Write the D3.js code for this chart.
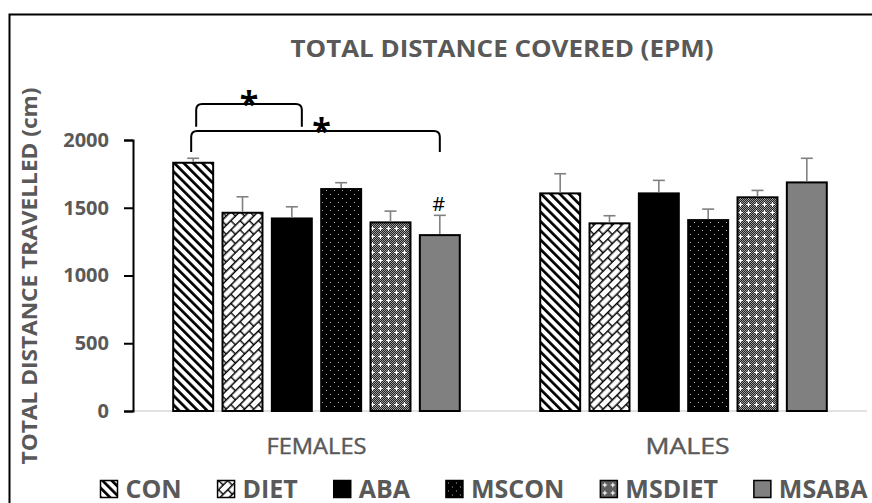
<!DOCTYPE html>
<html>
<head>
<meta charset="utf-8">
<script src="https://cdn.jsdelivr.net/npm/d3@7"></script>
<style>
  html, body { margin: 0; padding: 0; background: #fff; }
  svg { display: block; }
  text { font-family: "Open Sans", "DejaVu Sans", sans-serif; }
</style>
</head>
<body>
<svg id="chart" width="872" height="503"></svg>
<script>
// ---- DATA ----
const groups = ["FEMALES", "MALES"];
const series = ["CON", "DIET", "ABA", "MSCON", "MSDIET", "MSABA"];
const femalesMean = [1832, 1463, 1421, 1638, 1392, 1298];
const femalesErr  = [33, 118, 86, 47, 83, 146];
const malesMean   = [1606, 1385, 1606, 1409, 1577, 1687];
const malesErr    = [145, 56, 96, 81, 51, 178];
const yTicks = [0, 500, 1000, 1500, 2000];
const title = "TOTAL DISTANCE COVERED (EPM)";
const yLabel = "TOTAL DISTANCE TRAVELLED (cm)";
// significance brackets: [group, fromSeries, toSeries, topValue, legValue, label]
const brackets = [
  ["FEMALES", "CON", "ABA", 2266, 2098, "*"],
  ["FEMALES", "CON", "MSABA", 2067, 1911, "*"]
];
// marks: [group, series, label]
const marks = [["FEMALES", "MSABA", "#"]];

const data = [];
groups.forEach((g, gi) => {
  const m = gi === 0 ? femalesMean : malesMean;
  const e = gi === 0 ? femalesErr : malesErr;
  series.forEach((s, si) => data.push({ group: g, series: s, value: m[si], err: e[si] }));
});

const svg = d3.select("#chart");
const defs = svg.append("defs");

// ---- PATTERNS ----
const pCon = defs.append("pattern").attr("id", "p-CON")
  .attr("patternUnits", "userSpaceOnUse").attr("width", 6.6).attr("height", 10)
  .attr("patternTransform", "rotate(-45)");
pCon.append("rect").attr("width", 6.6).attr("height", 10).attr("fill", "#fff");
pCon.append("rect").attr("width", 2.7).attr("height", 10).attr("fill", "#000");

const pDiet = defs.append("pattern").attr("id", "p-DIET")
  .attr("patternUnits", "userSpaceOnUse").attr("width", 13).attr("height", 13)
  .attr("patternTransform", "rotate(-45)");
pDiet.append("rect").attr("width", 13).attr("height", 13).attr("fill", "#fff");
pDiet.append("path")
  .attr("d", "M0,0.7H13M0,7.2H13M0.7,0.7V7.2M7.2,7.2V13")
  .attr("stroke", "#000").attr("stroke-width", 1.4).attr("fill", "none");

const pMscon = defs.append("pattern").attr("id", "p-MSCON")
  .attr("patternUnits", "userSpaceOnUse").attr("width", 8).attr("height", 8);
pMscon.append("rect").attr("width", 8).attr("height", 8).attr("fill", "#000");
pMscon.append("rect").attr("x", 2).attr("y", 2).attr("width", 1).attr("height", 1).attr("fill", "#bbb");
pMscon.append("rect").attr("x", 6).attr("y", 6).attr("width", 1).attr("height", 1).attr("fill", "#bbb");

const pMsd = defs.append("pattern").attr("id", "p-MSDIET")
  .attr("patternUnits", "userSpaceOnUse").attr("width", 8).attr("height", 8);
pMsd.append("rect").attr("width", 8).attr("height", 8).attr("fill", "#222");
for (let i = 0; i < 8; i++) for (let j = 0; j < 8; j++) {
  if ((i + j) % 2 === 0) pMsd.append("rect").attr("x", i).attr("y", j).attr("width", 1).attr("height", 1).attr("fill", "#9a9a9a");
}
pMsd.append("path").attr("d", "M2,4.5H7M4.5,2V7").attr("stroke", "#fff").attr("stroke-width", 1);

const fills = {
  CON: "url(#p-CON)", DIET: "url(#p-DIET)", ABA: "#000",
  MSCON: "url(#p-MSCON)", MSDIET: "url(#p-MSDIET)", MSABA: "#808080"
};

// ---- FRAME ----
svg.append("rect").attr("x", 9.5).attr("y", 14.5).attr("width", 900).attr("height", 600)
  .attr("fill", "none").attr("stroke", "#000").attr("stroke-width", 2);

// ---- SCALES ----
const x0 = d3.scaleBand().domain(groups).range([133, 867]).padding(0);
const x1 = d3.scaleBand().domain(series).range([0, x0.bandwidth()])
  .paddingInner(0.19).paddingOuter(0.815);
const y = d3.scaleLinear().domain([0, 2000]).range([411, 140]);

svg.append("line").attr("x1", 133).attr("x2", 867).attr("y1", y(0)).attr("y2", y(0))
  .attr("stroke", "#d9d9d9").attr("stroke-width", 1.5);

// ---- AXIS ----
const yAxis = d3.axisLeft(y).tickValues(yTicks).tickFormat(d3.format("d")).tickSize(9).tickPadding(15);
const ya = svg.append("g").attr("transform", "translate(133,0)").call(yAxis);
ya.select(".domain").attr("stroke", "#000").attr("stroke-width", 2);
ya.selectAll(".tick line").attr("stroke", "#000").attr("stroke-width", 2);
ya.selectAll(".tick text").attr("font-size", 20).attr("font-weight", 700)
  .attr("fill", "#595959").style("font-family", '"Open Sans", sans-serif');

// ---- BARS ----
const bx = d => x0(d.group) + x1(d.series);
svg.append("g").selectAll("rect").data(data).join("rect")
  .attr("x", bx).attr("y", d => y(d.value))
  .attr("width", x1.bandwidth()).attr("height", d => y(0) - y(d.value))
  .attr("fill", d => fills[d.series]).attr("stroke", "#000").attr("stroke-width", 2);

const eg = svg.append("g").attr("stroke", "#808080").attr("stroke-width", 1.6);
data.forEach(d => {
  const cx = bx(d) + x1.bandwidth() / 2;
  eg.append("line").attr("x1", cx).attr("x2", cx).attr("y1", y(d.value) - 1).attr("y2", y(d.value + d.err));
  eg.append("line").attr("x1", cx - 6).attr("x2", cx + 6).attr("y1", y(d.value + d.err)).attr("y2", y(d.value + d.err));
});

// ---- BRACKETS ----
const cxOf = (g, s) => x0(g) + x1(s) + x1.bandwidth() / 2;
brackets.forEach(([g, a, b, top, leg, lab], i) => {
  const xa = cxOf(g, a) + (i === 0 ? 3 : -2);
  const xb = cxOf(g, b) + (i === 0 ? 10 : 0);
  const yt = y(top), yl = y(leg), r = 6;
  svg.append("path")
    .attr("d", `M${xa},${yl}L${xa},${yt + r}Q${xa},${yt} ${xa + r},${yt}L${xb - r},${yt}Q${xb},${yt} ${xb},${yt + r}L${xb},${yl}`)
    .attr("fill", "none").attr("stroke", "#000").attr("stroke-width", 2);
  svg.append("text").attr("x", (xa + xb) / 2 + (i === 0 ? 0 : 6)).attr("y", yt + 12)
    .attr("text-anchor", "middle").attr("font-size", 34).attr("font-weight", 700)
    .attr("fill", "#000").text(lab);
});
marks.forEach(([g, s, lab]) => {
  const d = data.find(e => e.group === g && e.series === s);
  svg.append("text").attr("x", cxOf(g, s) - 1).attr("y", y(d.value + d.err) - 4)
    .attr("text-anchor", "middle").attr("font-size", 20).attr("fill", "#000").text(lab);
});

// ---- GROUP LABELS ----
const groupW = { FEMALES: 100, MALES: 84 };
svg.append("g").selectAll("text").data(groups).join("text")
  .attr("x", d => x0(d) + x0.bandwidth() / 2 + (d === "MALES" ? 4 : 0)).attr("y", 454)
  .attr("text-anchor", "middle").attr("font-size", 21).attr("font-weight", 400)
  .attr("fill", "#595959").attr("stroke", "#595959").attr("stroke-width", 0.4)
  .attr("textLength", d => groupW[d]).attr("lengthAdjust", "spacingAndGlyphs").text(d => d);

// ---- TITLE ----
svg.append("text").attr("x", 502).attr("y", 57).attr("text-anchor", "middle")
  .attr("font-size", 23).attr("font-weight", 700).attr("fill", "#595959")
  .attr("textLength", 423).attr("lengthAdjust", "spacingAndGlyphs").text(title);

// ---- Y LABEL ----
svg.append("text").attr("transform", "translate(37,276) rotate(-90)")
  .attr("text-anchor", "middle").attr("font-size", 22).attr("font-weight", 700).attr("fill", "#595959")
  .attr("textLength", 377).attr("lengthAdjust", "spacingAndGlyphs").text(yLabel);

// ---- LEGEND ----
const lg = svg.append("g");
const items = series.map(s => {
  const g = lg.append("g");
  g.append("rect").attr("width", 17).attr("height", 17).attr("fill", fills[s])
    .attr("stroke", "#000").attr("stroke-width", 1.5);
  const t = g.append("text").attr("x", 25).attr("y", 17).attr("font-size", 25)
    .attr("font-weight", 700).attr("fill", "#595959").text(s);
  return { g, w: 25 + t.node().getComputedTextLength() };
});
const totalW = d3.sum(items, d => d.w);
const gap = (767 - totalW) / (items.length - 1);
let cx = 100.5;
items.forEach(it => {
  it.g.attr("transform", `translate(${cx},480.5)`);
  cx += it.w + gap;
});
</script>
</body>
</html>
